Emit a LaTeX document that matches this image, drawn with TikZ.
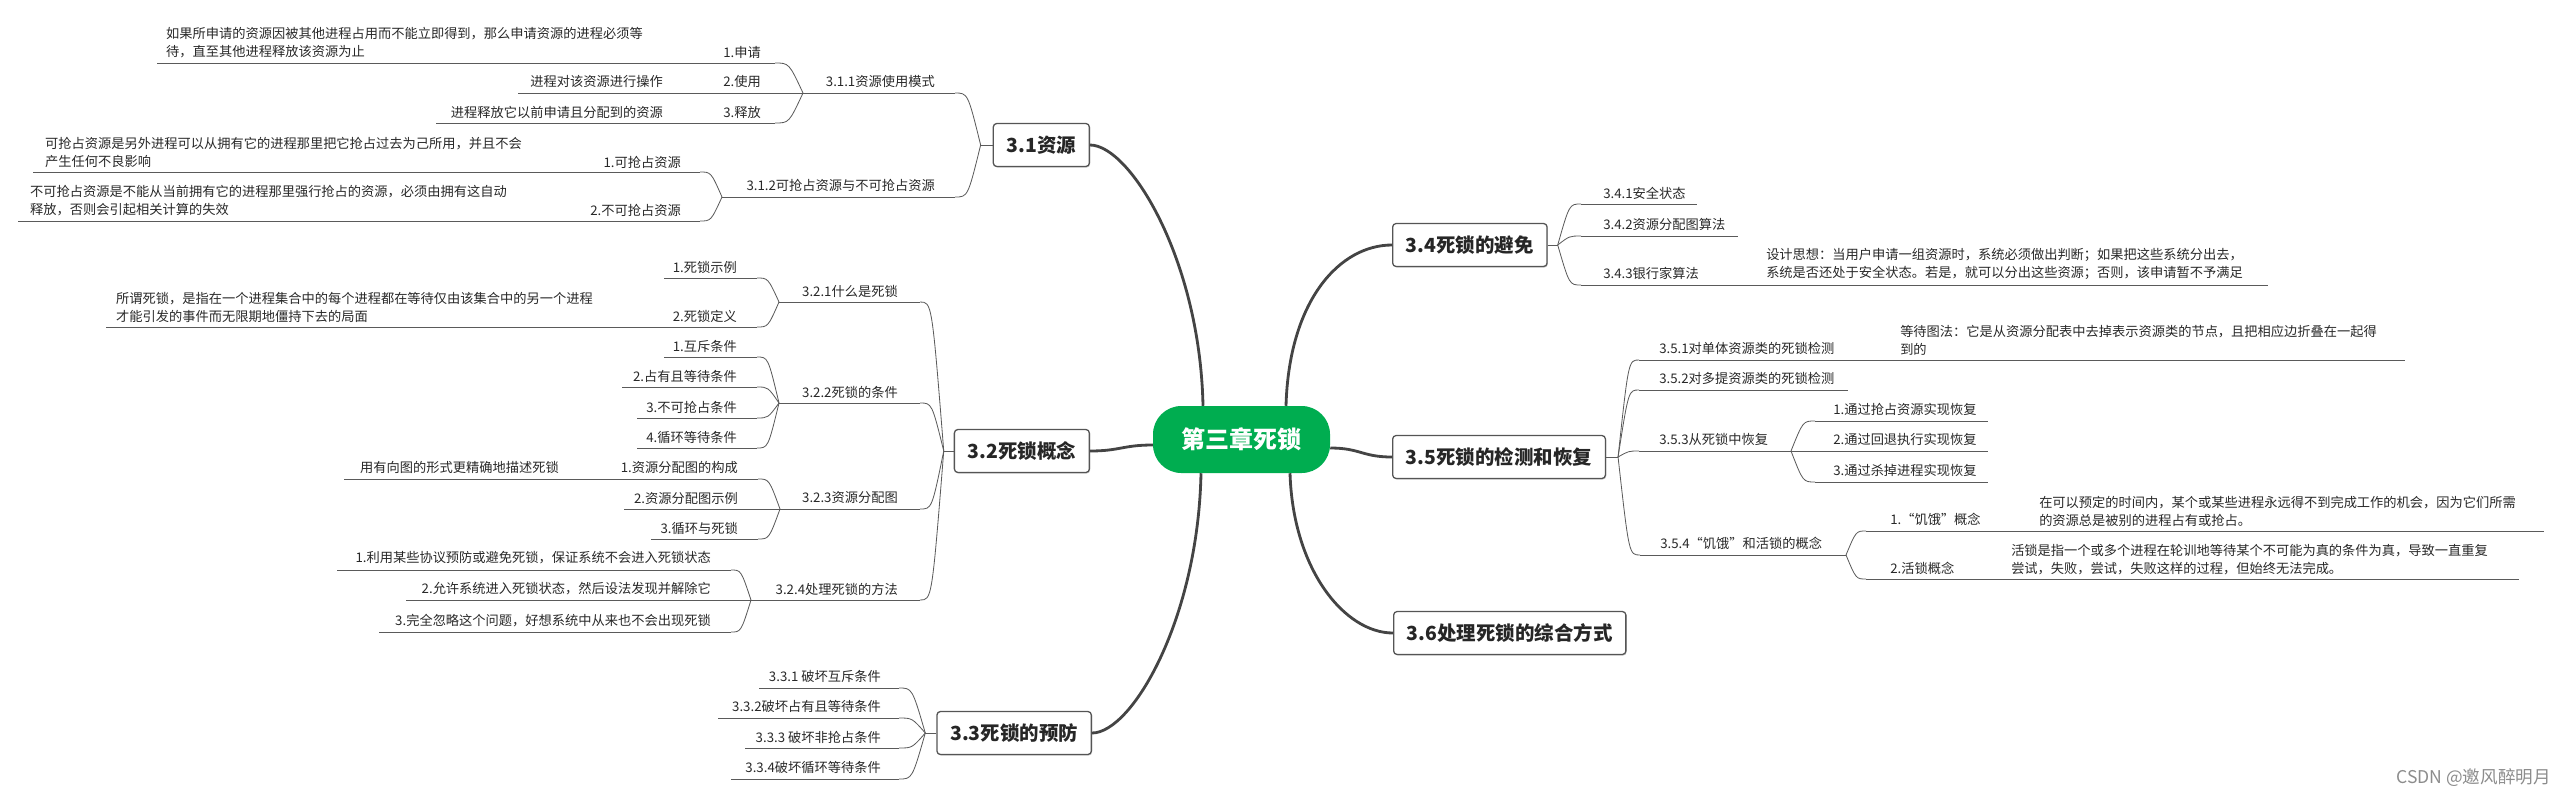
\documentclass[tikz,border=0pt]{standalone}
\usepackage{fontspec}
\setmainfont{Noto Sans CJK SC}
\usetikzlibrary{calc,shadows}
\definecolor{rootgreen}{RGB}{0,173,80}
\definecolor{trunkgray}{RGB}{68,68,68}
\definecolor{twiggray}{RGB}{90,90,90}
\definecolor{boxline}{RGB}{85,85,85}
\definecolor{inkgray}{RGB}{40,40,40}
\tikzset{
  root/.style={fill=rootgreen, text=white, rounded corners=0.85cm,
    minimum width=5.31cm, minimum height=2.01cm, inner sep=0pt,
    font=\bfseries\fontsize{20.5}{24}\selectfont},
  topic/.style={draw=boxline, fill=white, line width=1.1pt, rounded corners=3pt,
    minimum height=1.29cm, inner xsep=0.4cm, text=black!85,
    font=\bfseries\fontsize{16.6}{20}\selectfont,
    drop shadow={shadow xshift=0.7pt, shadow yshift=-0.9pt, opacity=0.4}},
  sub/.style={inner sep=0pt, text=inkgray, font=\fontsize{11.3}{15.3}\selectfont},
  note/.style={sub, align=left},
  trunk/.style={draw=trunkgray, line width=2.4pt},
  twig/.style={draw=twiggray, line width=0.7pt},
  bendto/.style={to path={.. controls ($(\tikztotarget)!0.5!(\tikztotarget -| \tikztostart)$) .. (\tikztotarget)}},
}
\begin{document}
\begin{tikzpicture}[x=0.03cm, y=-0.03cm]
\useasboundingbox (0,0) rectangle (2567,800);

% centre and main topics
\node[root] (root) at (1241.5,439.5) {第三章死锁};
\node[topic, anchor=east] (t31) at (1090,145) {3.1资源};
\node[topic, anchor=east] (t32) at (1090,451) {3.2死锁概念};
\node[topic, anchor=east] (t33) at (1092,733) {3.3死锁的预防};
\node[topic, anchor=west] (t34) at (1392,245) {3.4死锁的避免};
\node[topic, anchor=west] (t35) at (1392,457) {3.5死锁的检测和恢复};
\node[topic, anchor=west] (t36) at (1393,633) {3.6处理死锁的综合方式};

\draw[trunk] ($(root.north)+(-38.5,0)$) .. controls +(-3,-146) and +(40,0) .. (t31.east);
\draw[trunk] ($(root.west)+(0,5.5)$) .. controls +(-30,0) and +(30,0) .. (t32.east);
\draw[trunk] ($(root.south)+(-40.5,0)$) .. controls +(-3,146) and +(40,0) .. (t33.east);
\draw[trunk] ($(root.north)+(44.5,0)$) .. controls +(3,-106) and +(-52,0) .. (t34.west);
\draw[trunk] ($(root.east)+(0,8.5)$) .. controls +(30,0) and +(-30,0) .. (t35.west);
\draw[trunk] ($(root.south)+(48.5,0)$) .. controls +(3,97) and +(-48,0) .. (t36.west);

% 3.1
\draw[twig] (t31.west) -- ++(-12,0) coordinate (s31);
\node[sub, anchor=east] (n311) at (935,81) {3.1.1资源使用模式};
\draw[twig] (803,93) coordinate (f311) -- (955,93) coordinate (e311);
\node[sub, anchor=east] (n312) at (935,185) {3.1.2可抢占资源与不可抢占资源};
\draw[twig] (722,197) coordinate (f312) -- (955,197) coordinate (e312);
\draw[twig] (s31) to[bendto] (e311);
\draw[twig] (s31) to[bendto] (e312);

\node[sub, anchor=east] (n3111) at (761,52) {1.申请};
\node[note, anchor=west] (m3111) at (166,42.5) {如果所申请的资源因被其他进程占用而不能立即得到，那么申请资源的进程必须等\\待，直至其他进程释放该资源为止};
\draw[twig] (157,63) -- (775,63) coordinate (e3111);
\node[sub, anchor=east] (n3112) at (761,81) {2.使用};
\node[sub, anchor=east] (m3112) at (663,81) {进程对该资源进行操作};
\draw[twig] (518,93) -- (f311);
\node[sub, anchor=east] (n3113) at (761,112) {3.释放};
\node[sub, anchor=east] (m3113) at (663,112) {进程释放它以前申请且分配到的资源};
\draw[twig] (436,123) -- (775,123) coordinate (e3113);
\draw[twig] (f311) to[bendto] (e3111);
\draw[twig] (f311) to[bendto] (e3113);

\node[sub, anchor=east] (n3121) at (681,162) {1.可抢占资源};
\node[note, anchor=west] (m3121) at (45,152) {可抢占资源是另外进程可以从拥有它的进程那里把它抢占过去为己所用，并且不会\\产生任何不良影响};
\draw[twig] (33,172) -- (700,172) coordinate (e3121);
\node[sub, anchor=east] (n3122) at (681,210) {2.不可抢占资源};
\node[note, anchor=west] (m3122) at (30,201) {不可抢占资源是不能从当前拥有它的进程那里强行抢占的资源，必须由拥有这自动\\释放，否则会引起相关计算的失效};
\draw[twig] (18,221) -- (700,221) coordinate (e3122);
\draw[twig] (f312) to[bendto] (e3121);
\draw[twig] (f312) to[bendto] (e3122);

% 3.2
\draw[twig] (t32.west) -- ++(-10,0) coordinate (s32);
\node[sub, anchor=east] (n321) at (898,291) {3.2.1什么是死锁};
\draw[twig] (779,302) coordinate (f321) -- (920,302) coordinate (e321);
\node[sub, anchor=east] (n322) at (898,392) {3.2.2死锁的条件};
\draw[twig] (779,403) coordinate (f322) -- (920,403) coordinate (e322);
\node[sub, anchor=east] (n323) at (898,498) {3.2.3资源分配图};
\draw[twig] (780,509) coordinate (f323) -- (920,509) coordinate (e323);
\node[sub, anchor=east] (n324) at (898,589) {3.2.4处理死锁的方法};
\draw[twig] (751,600) coordinate (f324) -- (920,600) coordinate (e324);
\foreach \e in {e321,e322,e323,e324}
  \draw[twig] (s32) to[bendto] (\e);

\node[sub, anchor=east] (n3211) at (737,267) {1.死锁示例};
\draw[twig] (664,278) -- (757,278) coordinate (e3211);
\node[sub, anchor=east] (n3212) at (737,316) {2.死锁定义};
\node[note, anchor=west] (m3212) at (116,307) {所谓死锁，是指在一个进程集合中的每个进程都在等待仅由该集合中的另一个进程\\才能引发的事件而无限期地僵持下去的局面};
\draw[twig] (106,327) -- (757,327) coordinate (e3212);
\draw[twig] (f321) to[bendto] (e3211);
\draw[twig] (f321) to[bendto] (e3212);

\node[sub, anchor=east] (n3221) at (737,346) {1.互斥条件};
\draw[twig] (664,357) -- (757,357) coordinate (e3221);
\node[sub, anchor=east] (n3222) at (737,376) {2.占有且等待条件};
\draw[twig] (622,387) -- (757,387) coordinate (e3222);
\node[sub, anchor=east] (n3223) at (737,407) {3.不可抢占条件};
\draw[twig] (637,418) -- (757,418) coordinate (e3223);
\node[sub, anchor=east] (n3224) at (737,437) {4.循环等待条件};
\draw[twig] (637,448) -- (757,448) coordinate (e3224);
\foreach \e in {e3221,e3222,e3223,e3224}
  \draw[twig] (f322) to[bendto] (\e);

\node[sub, anchor=east] (n3231) at (738,467) {1.资源分配图的构成};
\node[sub, anchor=east] (m3231) at (559,467) {用有向图的形式更精确地描述死锁};
\draw[twig] (344,479) -- (758,479) coordinate (e3231);
\node[sub, anchor=east] (n3232) at (738,498) {2.资源分配图示例};
\draw[twig] (624,509) -- (f323);
\node[sub, anchor=east] (n3233) at (738,528) {3.循环与死锁};
\draw[twig] (651,539) -- (758,539) coordinate (e3233);
\draw[twig] (f323) to[bendto] (e3231);
\draw[twig] (f323) to[bendto] (e3233);

\node[sub, anchor=east] (n3241) at (711,558) {1.利用某些协议预防或避免死锁，保证系统不会进入死锁状态};
\draw[twig] (337,570) -- (731,570) coordinate (e3241);
\node[sub, anchor=east] (n3242) at (711,589) {2.允许系统进入死锁状态，然后设法发现并解除它};
\draw[twig] (406,600) -- (f324);
\node[sub, anchor=east] (n3243) at (711,621) {3.完全忽略这个问题，好想系统中从来也不会出现死锁};
\draw[twig] (379,632) -- (731,632) coordinate (e3243);
\draw[twig] (f324) to[bendto] (e3241);
\draw[twig] (f324) to[bendto] (e3243);

% 3.3
\draw[twig] (t33.west) -- ++(-11,0) coordinate (s33);
\node[sub, anchor=east] (n331) at (881,676) {3.3.1 破坏互斥条件};
\draw[twig] (759,688) -- (899,688) coordinate (e331);
\node[sub, anchor=east] (n332) at (881,706) {3.3.2破坏占有且等待条件};
\draw[twig] (718,718) -- (899,718) coordinate (e332);
\node[sub, anchor=east] (n333) at (881,737) {3.3.3 破坏非抢占条件};
\draw[twig] (745,748) -- (899,748) coordinate (e333);
\node[sub, anchor=east] (n334) at (881,767) {3.3.4破坏循环等待条件};
\draw[twig] (731,779) -- (899,779) coordinate (e334);
\foreach \e in {e331,e332,e333,e334}
  \draw[twig] (s33) to[bendto] (\e);

% 3.4
\draw[twig] (t34.east) -- ++(10,0) coordinate (s34);
\node[sub, anchor=west] (n341) at (1603,193) {3.4.1安全状态};
\draw[twig] (1581,204) coordinate (b341) -- (1697,204);
\node[sub, anchor=west] (n342) at (1603,224) {3.4.2资源分配图算法};
\draw[twig] (1581,236) coordinate (b342) -- (1738,236);
\node[sub, anchor=west] (n343) at (1603,273) {3.4.3银行家算法};
\node[note, anchor=west] (m343) at (1766,264) {设计思想：当用户申请一组资源时，系统必须做出判断；如果把这些系统分出去，\\系统是否还处于安全状态。若是，就可以分出这些资源；否则，该申请暂不予满足};
\draw[twig] (1581,285) coordinate (b343) -- (2268,285);
\foreach \b in {b341,b342,b343}
  \draw[twig] (s34) to[bendto] (\b);

% 3.5
\draw[twig] (t35.east) -- ++(12,0) coordinate (s35);
\node[sub, anchor=west] (n351) at (1659,348) {3.5.1对单体资源类的死锁检测};
\node[note, anchor=west] (m351) at (1900,340) {等待图法：它是从资源分配表中去掉表示资源类的节点，且把相应边折叠在一起得\\到的};
\draw[twig] (1639,360) coordinate (b351) -- (2405,360);
\node[sub, anchor=west] (n352) at (1659,378) {3.5.2对多提资源类的死锁检测};
\draw[twig] (1639,390) coordinate (b352) -- (1848,390);
\node[sub, anchor=west] (n353) at (1659,439) {3.5.3从死锁中恢复};
\draw[twig] (1639,451) coordinate (b353) -- (1791,451) coordinate (f353);
\node[sub, anchor=west] (n354) at (1660,543) {3.5.4“饥饿”和活锁的概念};
\draw[twig] (1640,555) coordinate (b354) -- (1846,555) coordinate (f354);
\foreach \b in {b351,b352,b353,b354}
  \draw[twig] (s35) to[bendto] (\b);

\node[sub, anchor=west] (n3531) at (1833,409) {1.通过抢占资源实现恢复};
\draw[twig] (1815,421) coordinate (b3531) -- (1988,421);
\node[sub, anchor=west] (n3532) at (1833,439) {2.通过回退执行实现恢复};
\draw[twig] (f353) -- (1988,451);
\node[sub, anchor=west] (n3533) at (1833,470) {3.通过杀掉进程实现恢复};
\draw[twig] (1815,482) coordinate (b3533) -- (1988,482);
\draw[twig] (f353) to[bendto] (b3531);
\draw[twig] (f353) to[bendto] (b3533);

\node[sub, anchor=west] (n3541) at (1890,519) {1.“饥饿”概念};
\node[note, anchor=west] (m3541) at (2039,511) {在可以预定的时间内，某个或某些进程永远得不到完成工作的机会，因为它们所需\\的资源总是被别的进程占有或抢占。};
\draw[twig] (1866,531) coordinate (b3541) -- (2544,531);
\node[sub, anchor=west] (n3542) at (1890,568) {2.活锁概念};
\node[note, anchor=west] (m3542) at (2011,559.5) {活锁是指一个或多个进程在轮训地等待某个不可能为真的条件为真，导致一直重复\\尝试，失败，尝试，失败这样的过程，但始终无法完成。};
\draw[twig] (1866,579) coordinate (b3542) -- (2519,579);
\draw[twig] (f354) to[bendto] (b3541);
\draw[twig] (f354) to[bendto] (b3542);

\node[anchor=east, inner sep=0pt, text=black!45, font=\fontsize{15}{18}\selectfont] (mark) at (2551,778) {CSDN @邀风醉明月};
\end{tikzpicture}
\end{document}
